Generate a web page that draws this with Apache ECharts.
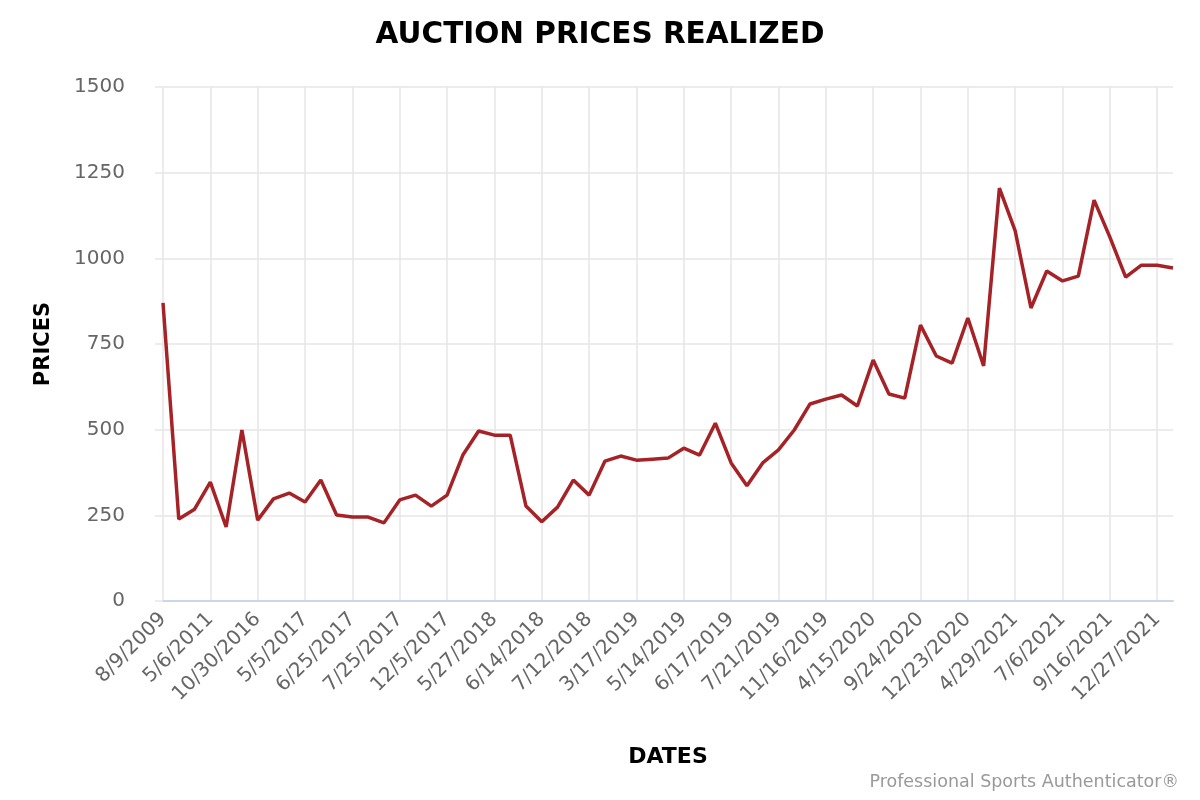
<!DOCTYPE html>
<html>
<head>
<meta charset="utf-8">
<script src="https://cdn.jsdelivr.net/npm/echarts@6/dist/echarts.min.js"></script>
<style>
html,body{margin:0;padding:0;background:#fff;}
#chart{width:1200px;height:800px;}
</style>
</head>
<body>
<div id="chart"></div>
<script>
// Dates: only every third sale date is printed on the axis of the reference; others are unlabeled
const dates = [
  "8/9/2009", "", "", "5/6/2011", "", "", "10/30/2016", "", "", "5/5/2017", "", "",
  "6/25/2017", "", "", "7/25/2017", "", "", "12/5/2017", "", "", "5/27/2018", "", "",
  "6/14/2018", "", "", "7/12/2018", "", "", "3/17/2019", "", "", "5/14/2019", "", "",
  "6/17/2019", "", "", "7/21/2019", "", "", "11/16/2019", "", "", "4/15/2020", "", "",
  "9/24/2020", "", "", "12/23/2020", "", "", "4/29/2021", "", "", "7/6/2021", "", "",
  "9/16/2021", "", "", "12/27/2021", ""
];
const prices = [
  870, 239, 268, 347, 216, 499, 236, 298, 315, 289, 353, 251,
  245, 245, 228, 295, 309, 277, 309, 426, 496, 484, 484, 277,
  231, 274, 353, 309, 408, 423, 411, 414, 417, 446, 426, 519,
  403, 336, 403, 441, 499, 575, 589, 601, 569, 703, 604, 592,
  805, 715, 694, 826, 686, 1205, 1080, 855, 963, 934, 948, 1170,
  1062, 945, 980, 980, 972
];
const yTicks = { min: 0, max: 1500, interval: 250 };

const FONT = "'DejaVu Sans', 'Noto Sans', sans-serif";
const chart = echarts.init(document.getElementById('chart'), null, { renderer: 'canvas' });
chart.setOption({
  backgroundColor: '#ffffff',
  animation: false,
  title: [
    {
      text: 'AUCTION PRICES REALIZED',
      left: 'center',
      top: 15,
      textStyle: { fontFamily: FONT, fontWeight: 'bold', fontSize: 29.5, color: '#000' }
    },
    {
      text: 'Professional Sports Authenticator®',
      right: 16,
      bottom: 4,
      textStyle: { fontFamily: FONT, fontWeight: 'normal', fontSize: 17.5, color: '#999' }
    }
  ],
  tooltip: { trigger: 'axis' },
  grid: { left: 163, right: 27, top: 87, bottom: 199, containLabel: false },
  xAxis: {
    type: 'category',
    data: dates,
    boundaryGap: false,
    name: 'DATES',
    nameLocation: 'middle',
    nameGap: 145,
    nameTextStyle: { fontFamily: FONT, fontWeight: 'bold', fontSize: 22, color: '#000' },
    axisLine: { show: true, lineStyle: { color: '#ccd6eb', width: 2 } },
    axisTick: { show: false, interval: 2 },
    axisLabel: {
      interval: 2,
      rotate: 45,
      margin: 15,
      fontFamily: FONT,
      fontSize: 20,
      color: '#666'
    },
    splitLine: { show: true, interval: 2, lineStyle: { color: '#e6e6e6', width: 1.5 } }
  },
  yAxis: {
    type: 'value',
    min: yTicks.min,
    max: yTicks.max,
    interval: yTicks.interval,
    name: 'PRICES',
    nameLocation: 'middle',
    nameGap: 109,
    nameTextStyle: { fontFamily: FONT, fontWeight: 'bold', fontSize: 21, color: '#000' },
    axisLine: { show: false },
    axisTick: { show: true, length: 8, lineStyle: { color: '#e6e6e6', width: 1.5 } },
    axisLabel: {
      margin: 38,
      fontFamily: FONT,
      fontSize: 20,
      color: '#666',
      formatter: function (v) { return String(v); }
    },
    splitLine: { show: true, lineStyle: { color: '#e6e6e6', width: 1.5 } }
  },
  series: [{
    type: 'line',
    data: prices,
    showSymbol: false,
    symbol: 'none',
    lineStyle: { color: '#a52327', width: 3.5 },
    itemStyle: { color: '#a52327' }
  }]
});
</script>
</body>
</html>
